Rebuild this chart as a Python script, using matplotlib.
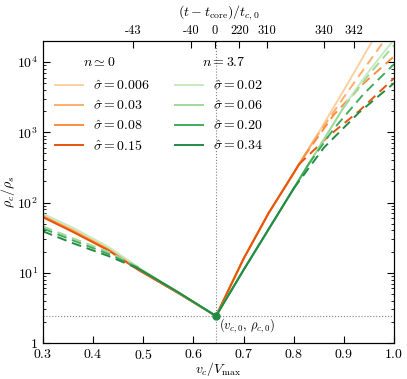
import matplotlib
matplotlib.use("Agg")
import matplotlib.pyplot as plt
import numpy as np

plt.rcParams['font.family'] = 'serif'
plt.rcParams['font.serif'] = ['cmr10']
plt.rcParams['mathtext.fontset'] = 'cm'
plt.rcParams['axes.unicode_minus'] = False
plt.rcParams['axes.formatter.use_mathtext'] = True

# core point
vc0 = 0.645
rho0 = 2.42

# ---- n ~ 0 (orange) ----
sig_o = ['0.006', '0.03', '0.08', '0.15']
col_o = ['#fdd0a2', '#fdae6b', '#fd8d3c', '#e6550d']

vc_left = [0.30, 0.36, 0.43, 0.49, 0.57, 0.645]
lr_left_o006 = [1.83, 1.62, 1.35, 1.06, 0.72, 0.384]
lr_left_o03 = [1.81, 1.60, 1.34, 1.05, 0.71, 0.384]
lr_left_o08 = [1.80, 1.59, 1.33, 1.05, 0.71, 0.384]
lr_left_o15 = [1.79, 1.58, 1.32, 1.04, 0.71, 0.384]

vc_right_o006 = [0.645, 0.70, 0.75, 0.80, 0.85, 0.90, 0.956, 1.0]
lr_right_o006 = [0.384, 1.20, 1.85, 2.42, 3.0, 3.60, 4.29, 4.8]
vc_right_o03 = [0.645, 0.70, 0.75, 0.80, 0.84]
lr_right_o03 = [0.384, 1.20, 1.85, 2.42, 2.88]
vc_right_o08 = [0.645, 0.70, 0.75, 0.80, 0.82]
lr_right_o08 = [0.384, 1.20, 1.85, 2.42, 2.65]
vc_right_o15 = [0.645, 0.70, 0.75, 0.80, 0.81]
lr_right_o15 = [0.384, 1.20, 1.85, 2.42, 2.54]

vc_dash_o03 = [0.84, 0.90, 0.95, 1.0]
lr_dash_o03 = [2.88, 3.50, 4.0, 4.5]
vc_dash_o08 = [0.82, 0.88, 0.94, 1.0]
lr_dash_o08 = [2.65, 3.25, 3.70, 4.08]
vc_dash_o15 = [0.81, 0.87, 0.93, 1.0]
lr_dash_o15 = [2.54, 2.95, 3.30, 3.77]

# ---- n = 3.7 (green) ----
sig_g = ['0.02', '0.06', '0.20', '0.34']
col_g = ['#c7e9c0', '#a1d99b', '#41ab5d', '#238b45']

lr_left_g02 = [1.84, 1.64, 1.37, 1.08, 0.72, 0.384]
vc_left_gtail = [0.49, 0.57, 0.645]
lr_left_gtail = [1.06, 0.72, 0.384]
vc_left_gdash = [0.30, 0.36, 0.43, 0.49]
lr_left_gdash06 = [1.66, 1.49, 1.30, 1.08]
lr_left_gdash20 = [1.63, 1.46, 1.27, 1.07]
lr_left_gdash34 = [1.59, 1.42, 1.24, 1.06]

vc_right_g02 = [0.645, 0.70, 0.75, 0.80, 0.85, 0.908, 0.95, 1.0]
lr_right_g02 = [0.384, 1.04, 1.62, 2.2, 2.78, 3.45, 3.87, 4.32]
vc_right_g06 = [0.645, 0.70, 0.75, 0.80, 0.85, 0.90]
lr_right_g06 = [0.384, 1.04, 1.62, 2.2, 2.78, 3.36]
vc_right_g20 = [0.645, 0.70, 0.75, 0.80, 0.83]
lr_right_g20 = [0.384, 1.04, 1.62, 2.2, 2.55]
vc_right_g34 = [0.645, 0.70, 0.75, 0.80]
lr_right_g34 = [0.384, 1.04, 1.62, 2.2]

vc_dash_g06 = [0.90, 0.95, 1.0]
lr_dash_g06 = [3.36, 3.82, 4.24]
vc_dash_g20 = [0.83, 0.88, 0.94, 1.0]
lr_dash_g20 = [2.55, 3.05, 3.55, 3.97]
vc_dash_g34 = [0.80, 0.86, 0.93, 1.0]
lr_dash_g34 = [2.2, 2.78, 3.28, 3.70]

# top axis (time)
top_ticks = [0.480, 0.595, 0.643, 0.6915, 0.746, 0.861, 0.920]
top_labels = ['-43', '-40', '0', '220', '310', '340', '342']


def p(ax, x, lr, c, ls='-', **kw):
    return ax.plot(x, 10 ** np.array(lr), color=c, ls=ls, lw=1.4, **kw)[0]


fig = plt.figure(figsize=(4.07, 3.79), dpi=100)
ax = fig.add_axes([0.1057, 0.095, 0.8623, 0.797])

ax.axvline(vc0, color='gray', ls=':', lw=0.8)
ax.axhline(rho0, color='gray', ls=':', lw=0.8)

# orange
lefts_o = [lr_left_o006, lr_left_o03, lr_left_o08, lr_left_o15]
rights_o = [(vc_right_o006, lr_right_o006), (vc_right_o03, lr_right_o03),
            (vc_right_o08, lr_right_o08), (vc_right_o15, lr_right_o15)]
dashes_o = [None, (vc_dash_o03, lr_dash_o03), (vc_dash_o08, lr_dash_o08),
            (vc_dash_o15, lr_dash_o15)]
h_o = []
for i in range(4):
    h = p(ax, vc_left, lefts_o[i], col_o[i])
    p(ax, rights_o[i][0], rights_o[i][1], col_o[i])
    if dashes_o[i] is not None:
        p(ax, dashes_o[i][0], dashes_o[i][1], col_o[i], ls=(0, (5, 3)))
    h_o.append(h)

# green
rights_g = [(vc_right_g02, lr_right_g02), (vc_right_g06, lr_right_g06),
            (vc_right_g20, lr_right_g20), (vc_right_g34, lr_right_g34)]
dashes_g = [None, (vc_dash_g06, lr_dash_g06), (vc_dash_g20, lr_dash_g20),
            (vc_dash_g34, lr_dash_g34)]
left_dash_g = [None, lr_left_gdash06, lr_left_gdash20, lr_left_gdash34]
h_g = []
for i in range(4):
    if left_dash_g[i] is None:
        h = p(ax, vc_left, lr_left_g02, col_g[i])
    else:
        p(ax, vc_left_gdash, left_dash_g[i], col_g[i], ls=(0, (5, 3)))
        h = p(ax, vc_left_gtail, lr_left_gtail, col_g[i])
    p(ax, rights_g[i][0], rights_g[i][1], col_g[i])
    if dashes_g[i] is not None:
        p(ax, dashes_g[i][0], dashes_g[i][1], col_g[i], ls=(0, (5, 3)))
    h_g.append(h)

ax.plot([vc0], [rho0], 'o', color='#238b45', ms=5, zorder=5)
ax.text(0.651, rho0 * 0.985, r'$(v_{c,0},\,\rho_{c,0})$', fontsize=9, ha='left', va='top')

ax.set_yscale('log')
ax.set_xlim(0.3, 1.0)
ax.set_ylim(1, 2e4)
ax.set_yticks([1, 10, 100, 1000, 10000])
ax.set_yticklabels(['$1$', '$10^1$', '$10^2$', '$10^3$', '$10^4$'])
ax.set_xticks([0.3, 0.4, 0.5, 0.6, 0.7, 0.8, 0.9, 1.0])
ax.set_xticklabels(['$%.1f$' % v for v in [0.3, 0.4, 0.5, 0.6, 0.7, 0.8, 0.9, 1.0]])
ax.tick_params(which='both', direction='in', top=False, right=True, labelsize=10)
ax.tick_params(which='major', length=5)
ax.tick_params(which='minor', length=2.5)
ax.tick_params(axis='x', which='minor', bottom=False)
ax.set_xlabel(r'$v_c/V_{\rm max}$', fontsize=10)
ax.xaxis.set_label_coords(0.5, -0.055)
ax.set_ylabel(r'$\rho_c/\rho_s$', fontsize=10)
ax.yaxis.set_label_coords(-0.075, 0.5)

ax2 = ax.twiny()
ax2.set_xlim(ax.get_xlim())
ax2.set_xticks(top_ticks)
ax2.set_xticklabels(top_labels)
ax2.tick_params(direction='in', length=5, labelsize=9, pad=3)
ax2.set_xlabel(r'$(t-t_{\rm core})/t_{c,0}$', fontsize=10, labelpad=6)

ax.text(0.16, 0.93, r'$n\simeq0$', transform=ax.transAxes, ha='center', va='center', fontsize=10)
ax.text(0.516, 0.93, r'$n=3.7$', transform=ax.transAxes, ha='center', va='center', fontsize=10)

handles = h_o + h_g
labels = [r'$\hat\sigma=%s$' % s for s in sig_o] + [r'$\hat\sigma=%s$' % s for s in sig_g]
leg = ax.legend(handles, labels, ncol=2, loc='upper left', bbox_to_anchor=(0.034, 0.875),
                frameon=False, fontsize=10, handlelength=2.0, handletextpad=0.75,
                columnspacing=1.8, labelspacing=0.45, borderpad=0, borderaxespad=0)

fig.savefig('out.png', dpi=100)
